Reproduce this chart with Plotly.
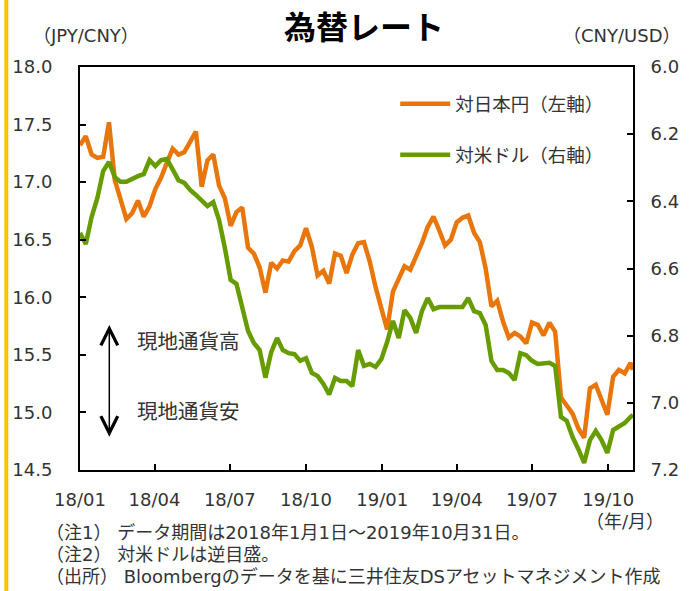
import pandas as pd
import plotly.graph_objects as go

# weekly closes, last point = 2019-10-31
dates = list(pd.date_range("2018-01-01", periods=96, freq="7D")) + [pd.Timestamp("2019-10-31")]

jpy_cny = [
    17.32, 17.40, 17.24, 17.21, 17.22, 17.52, 17.02, 16.85, 16.68, 16.73,
    16.84, 16.70, 16.79, 16.94, 17.04, 17.17, 17.29, 17.24, 17.26, 17.35,
    17.44, 16.96, 17.19, 17.24, 16.97, 16.86, 16.62, 16.74, 16.78, 16.43,
    16.38, 16.26, 16.04, 16.30, 16.25, 16.32, 16.31, 16.40, 16.45, 16.60,
    16.44, 16.19, 16.23, 16.12, 16.38, 16.36, 16.21, 16.37, 16.47, 16.48,
    16.31, 16.09, 15.89, 15.72, 16.05, 16.15, 16.27, 16.24, 16.35, 16.47,
    16.61, 16.70, 16.58, 16.45, 16.50, 16.65, 16.69, 16.71, 16.56, 16.48,
    16.25, 15.92, 15.97, 15.79, 15.65, 15.69, 15.66, 15.60, 15.78, 15.76,
    15.67, 15.78, 15.70, 15.13, 15.06, 14.99, 14.86, 14.78, 15.21, 15.24,
    15.11, 14.98, 15.31, 15.37, 15.34, 15.43, 15.37,
]

cny_usd = [
    6.494, 6.527, 6.447, 6.390, 6.310, 6.283, 6.328, 6.342, 6.342, 6.333,
    6.325, 6.319, 6.277, 6.295, 6.277, 6.274, 6.307, 6.337, 6.345, 6.366,
    6.381, 6.396, 6.414, 6.402, 6.456, 6.539, 6.634, 6.646, 6.715, 6.786,
    6.822, 6.843, 6.925, 6.849, 6.807, 6.843, 6.852, 6.855, 6.875, 6.867,
    6.911, 6.920, 6.944, 6.975, 6.926, 6.935, 6.935, 6.950, 6.843, 6.890,
    6.884, 6.893, 6.870, 6.819, 6.756, 6.807, 6.724, 6.747, 6.792, 6.727,
    6.688, 6.721, 6.715, 6.715, 6.715, 6.712, 6.715, 6.688, 6.727, 6.733,
    6.768, 6.875, 6.902, 6.902, 6.911, 6.932, 6.852, 6.858, 6.875, 6.884,
    6.881, 6.881, 6.890, 7.042, 7.054, 7.102, 7.138, 7.179, 7.111, 7.084,
    7.111, 7.149, 7.081, 7.069, 7.060, 7.042, 7.036,
]

notes = [
    "（注1） データ期間は2018年1月1日～2019年10月31日。",
    "（注2） 対米ドルは逆目盛。",
    "（出所） Bloombergのデータを基に三井住友DSアセットマネジメント作成",
]

# Verdana-like latin (DejaVu) + CJK fallback, close to Meiryo
FONT = "DejaVu Sans, Noto Sans CJK JP"
ORANGE = "#E8760A"
GREEN = "#679C00"
TXT = "#333333"

fig = go.Figure()

fig.add_trace(go.Scatter(
    x=dates, y=jpy_cny, mode="lines", name="対日本円（左軸）",
    line=dict(color=ORANGE, width=4.5), legendgroup="jpy"
))
fig.add_trace(go.Scatter(
    x=dates, y=cny_usd, mode="lines", name="対米ドル（右軸）", yaxis="y2",
    line=dict(color=GREEN, width=4.5), legendgroup="usd"
))

axis_common = dict(
    showline=True, linecolor="black", linewidth=2,
    ticks="inside", ticklen=6, tickwidth=2, tickcolor="black",
    showgrid=False, zeroline=False,
    tickfont=dict(family=FONT, size=18, color=TXT),
)

fig.update_layout(
    width=691, height=591,
    margin=dict(l=77, r=51, t=67, b=121),
    paper_bgcolor="white", plot_bgcolor="white",
    font=dict(family=FONT, color=TXT),
    xaxis=dict(
        type="date", range=["2018-01-01", "2019-10-31"],
        tick0="2018-01-01", dtick="M3", tickformat="%y/%m",
        mirror=True, ticklabelstandoff=12, **axis_common
    ),
    yaxis=dict(range=[14.5, 18.0], dtick=0.5, tickformat=".1f",
               ticklabelstandoff=22, **axis_common),
    yaxis2=dict(range=[7.2, 6.0], dtick=0.2, tickformat=".1f",
                overlaying="y", side="right", ticklabelstandoff=12, **axis_common),
    showlegend=True,
    legend=dict(
        x=0.57, y=0.955, xanchor="left", yanchor="top",
        traceorder="grouped", tracegroupgap=24, itemwidth=50,
        font=dict(family=FONT, size=18.5, color=TXT),
        bgcolor="rgba(0,0,0,0)",
    ),
)

ann = [
    dict(text="<b>為替レート</b>", x=0.513, y=1.105,
         font=dict(family="Noto Sans CJK JP", size=32, color="black")),
    dict(text="（JPY/CNY）", x=0.011, y=1.079, font=dict(size=18, color=TXT)),
    dict(text="（CNY/USD）", x=0.98, y=1.079, font=dict(size=18, color=TXT)),
    dict(text="（年/月）", x=0.985, y=-0.129, font=dict(size=18, color=TXT)),
    dict(text="現地通貨高", x=0.0995, y=0.318, xanchor="left", font=dict(size=20.5, color=TXT)),
    dict(text="現地通貨安", x=0.0995, y=0.144, xanchor="left", font=dict(size=20.5, color=TXT)),
]
for i, t in enumerate(notes):
    ann.append(dict(text=t, x=-0.066, y=-0.154 - 0.055 * i, xanchor="left",
                    font=dict(size=18, color=TXT)))
for a in ann:
    a.setdefault("xanchor", "center")
    fig.add_annotation(xref="paper", yref="paper", showarrow=False, yanchor="middle", **a)

# double headed arrow
fig.add_annotation(
    xref="x domain", yref="y domain", axref="x domain", ayref="y domain",
    x=0.053, y=0.36, ax=0.053, ay=0.079, text="",
    showarrow=True, arrowhead=5, startarrowhead=5, arrowside="end+start",
    arrowsize=2.2, startarrowsize=2.2, arrowwidth=1.5, arrowcolor="black",
)

# yellow bar at the left edge
fig.add_shape(type="rect", xref="paper", yref="paper",
              x0=-0.1368, x1=-0.1297, y0=-0.31, y1=1.18,
              fillcolor="#FFC000", line=dict(width=0), layer="below")

fig.write_html("out.html", config={"displayModeBar": False},
               post_script="document.body.style.margin='0';")
